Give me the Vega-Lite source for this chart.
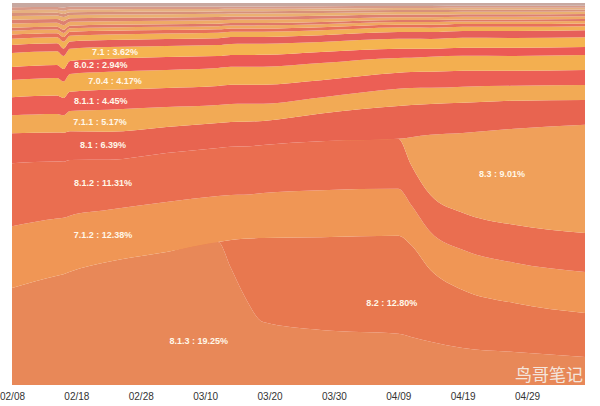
{
  "$schema": "https://vega.github.io/schema/vega-lite/v6.json",
  "width": 573,
  "height": 382,
  "autosize": {"type": "none"},
  "padding": {"left": 12, "top": 3, "right": 15, "bottom": 21},
  "background": "#ffffff",
  "config": {"view": {"stroke": null}},
  "datasets": {
    "shares": [
      {"date": "2015-02-08", "v813": 25.4, "v82": 0, "v712": 16.2, "v812": 16.5, "v83": 0, "v81": 7.9, "v711": 4.7, "v811": 4.7, "v704": 4.5, "v802": 3.4, "v71": 3.7, "v80": 2.1, "v706": 1.65, "v703": 1.1, "v702": 0.99, "v70": 0.77, "v616": 1.1, "v614": 0.99, "v613": 0.99, "v612": 0.77, "v601": 0.77, "v511": 0.77, "other": 1.1},
      {"date": "2015-02-15", "v813": 28.6, "v82": 0, "v712": 15.0, "v812": 14.9, "v83": 0, "v81": 7.6, "v711": 4.9, "v811": 4.8, "v704": 4.6, "v802": 3.4, "v71": 3.6, "v80": 2.1, "v706": 1.58, "v703": 1.05, "v702": 0.95, "v70": 0.74, "v616": 1.05, "v614": 0.95, "v613": 0.95, "v612": 0.74, "v601": 0.74, "v511": 0.74, "other": 1.05},
      {"date": "2015-02-16", "v813": 29.0, "v82": 0, "v712": 14.8, "v812": 14.7, "v83": 0, "v81": 7.6, "v711": 4.6, "v811": 4.5, "v704": 4.3, "v802": 3.3, "v71": 3.4, "v80": 2.0, "v706": 1.79, "v703": 1.19, "v702": 1.07, "v70": 0.83, "v616": 1.19, "v614": 1.07, "v613": 1.07, "v612": 0.83, "v601": 0.83, "v511": 0.83, "other": 1.19},
      {"date": "2015-02-17", "v813": 29.5, "v82": 0, "v712": 14.6, "v812": 14.5, "v83": 0, "v81": 7.5, "v711": 5.3, "v811": 5.0, "v704": 4.6, "v802": 3.4, "v71": 3.2, "v80": 1.9, "v706": 1.5, "v703": 1.0, "v702": 0.9, "v70": 0.7, "v616": 1.0, "v614": 0.9, "v613": 0.9, "v612": 0.7, "v601": 0.7, "v511": 0.7, "other": 1.0},
      {"date": "2015-02-23", "v813": 32.2, "v82": 0, "v712": 13.6, "v812": 13.1, "v83": 0, "v81": 7.3, "v711": 5.8, "v811": 5.2, "v704": 4.7, "v802": 3.4, "v71": 3.1, "v80": 1.8, "v706": 1.46, "v703": 0.97, "v702": 0.87, "v70": 0.68, "v616": 0.97, "v614": 0.87, "v613": 0.87, "v612": 0.68, "v601": 0.68, "v511": 0.68, "other": 0.97},
      {"date": "2015-03-04", "v813": 34.8, "v82": 0, "v712": 13.1, "v812": 12.8, "v83": 0, "v81": 6.8, "v711": 5.2, "v811": 5.0, "v704": 4.7, "v802": 3.4, "v71": 2.9, "v80": 1.8, "v706": 1.41, "v703": 0.94, "v702": 0.85, "v70": 0.66, "v616": 0.94, "v614": 0.85, "v613": 0.85, "v612": 0.66, "v601": 0.66, "v511": 0.66, "other": 0.94},
      {"date": "2015-03-12", "v813": 37.4, "v82": 0, "v712": 12.0, "v812": 12.6, "v83": 0, "v81": 6.5, "v711": 4.7, "v811": 5.0, "v704": 4.7, "v802": 3.1, "v71": 2.9, "v80": 1.8, "v706": 1.38, "v703": 0.92, "v702": 0.83, "v70": 0.64, "v616": 0.92, "v614": 0.83, "v613": 0.83, "v612": 0.64, "v601": 0.64, "v511": 0.64, "other": 0.92},
      {"date": "2015-03-14", "v813": 30.6, "v82": 7.3, "v712": 11.8, "v812": 12.6, "v83": 0, "v81": 6.5, "v711": 4.7, "v811": 5.0, "v704": 4.7, "v802": 3.1, "v71": 2.9, "v80": 1.8, "v706": 1.34, "v703": 0.89, "v702": 0.8, "v70": 0.62, "v616": 0.89, "v614": 0.8, "v613": 0.8, "v612": 0.62, "v601": 0.62, "v511": 0.62, "other": 0.89},
      {"date": "2015-03-16", "v813": 23.6, "v82": 14.7, "v712": 11.5, "v812": 12.6, "v83": 0, "v81": 6.5, "v711": 4.7, "v811": 5.0, "v704": 4.7, "v802": 3.1, "v71": 2.9, "v80": 1.8, "v706": 1.34, "v703": 0.89, "v702": 0.8, "v70": 0.62, "v616": 0.89, "v614": 0.8, "v613": 0.8, "v612": 0.62, "v601": 0.62, "v511": 0.62, "other": 0.89},
      {"date": "2015-03-19", "v813": 16.5, "v82": 22.0, "v712": 11.8, "v812": 12.6, "v83": 0, "v81": 6.3, "v711": 4.5, "v811": 5.0, "v704": 4.7, "v802": 3.1, "v71": 2.9, "v80": 1.8, "v706": 1.34, "v703": 0.89, "v702": 0.8, "v70": 0.62, "v616": 0.89, "v614": 0.8, "v613": 0.8, "v612": 0.62, "v601": 0.62, "v511": 0.62, "other": 0.89},
      {"date": "2015-03-28", "v813": 14.4, "v82": 24.3, "v712": 12.3, "v812": 12.8, "v83": 0, "v81": 7.3, "v711": 4.2, "v811": 4.5, "v704": 4.5, "v802": 2.9, "v71": 2.6, "v80": 1.8, "v706": 1.26, "v703": 0.84, "v702": 0.76, "v70": 0.59, "v616": 0.84, "v614": 0.76, "v613": 0.76, "v612": 0.59, "v601": 0.59, "v511": 0.59, "other": 0.84},
      {"date": "2015-04-09", "v813": 13.4, "v82": 25.7, "v712": 12.3, "v812": 13.1, "v83": 0, "v81": 8.6, "v711": 4.5, "v811": 4.2, "v704": 3.9, "v802": 2.4, "v71": 2.6, "v80": 1.8, "v706": 1.14, "v703": 0.76, "v702": 0.68, "v70": 0.53, "v616": 0.76, "v614": 0.68, "v613": 0.68, "v612": 0.53, "v601": 0.53, "v511": 0.53, "other": 0.76},
      {"date": "2015-04-11", "v813": 12.6, "v82": 24.1, "v712": 10.5, "v812": 10.5, "v83": 7.3, "v81": 8.4, "v711": 4.5, "v811": 4.2, "v704": 3.7, "v802": 2.4, "v71": 2.6, "v80": 1.8, "v706": 1.14, "v703": 0.76, "v702": 0.68, "v70": 0.53, "v616": 0.76, "v614": 0.68, "v613": 0.68, "v612": 0.53, "v601": 0.53, "v511": 0.53, "other": 0.76},
      {"date": "2015-04-14", "v813": 11.3, "v82": 18.8, "v712": 9.9, "v812": 9.7, "v83": 15.7, "v81": 8.1, "v711": 4.2, "v811": 4.2, "v704": 3.9, "v802": 2.1, "v71": 2.6, "v80": 1.8, "v706": 1.14, "v703": 0.76, "v702": 0.68, "v70": 0.53, "v616": 0.76, "v614": 0.68, "v613": 0.68, "v612": 0.53, "v601": 0.53, "v511": 0.53, "other": 0.76},
      {"date": "2015-04-19", "v813": 9.7, "v82": 15.2, "v712": 10.5, "v812": 9.7, "v83": 20.9, "v81": 7.9, "v711": 4.2, "v811": 4.2, "v704": 3.9, "v802": 2.1, "v71": 2.6, "v80": 1.8, "v706": 1.1, "v703": 0.73, "v702": 0.66, "v70": 0.51, "v616": 0.73, "v614": 0.66, "v613": 0.66, "v612": 0.51, "v601": 0.51, "v511": 0.51, "other": 0.73},
      {"date": "2015-04-27", "v813": 8.6, "v82": 12.8, "v712": 10.5, "v812": 9.9, "v83": 25.1, "v81": 7.3, "v711": 3.9, "v811": 3.9, "v704": 3.9, "v802": 2.1, "v71": 2.6, "v80": 1.8, "v706": 1.1, "v703": 0.73, "v702": 0.66, "v70": 0.51, "v616": 0.73, "v614": 0.66, "v613": 0.66, "v612": 0.51, "v601": 0.51, "v511": 0.51, "other": 0.73},
      {"date": "2015-05-08", "v813": 7.3, "v82": 11.5, "v712": 10.7, "v812": 10.2, "v83": 28.3, "v81": 6.5, "v711": 3.9, "v811": 3.9, "v704": 3.9, "v802": 2.1, "v71": 2.6, "v80": 1.8, "v706": 1.07, "v703": 0.71, "v702": 0.64, "v70": 0.5, "v616": 0.71, "v614": 0.64, "v613": 0.64, "v612": 0.5, "v601": 0.5, "v511": 0.5, "other": 0.71}
    ],
    "versions": [
      {"key": "v813", "rank": 1}, {"key": "v82", "rank": 2}, {"key": "v712", "rank": 3}, {"key": "v812", "rank": 4},
      {"key": "v83", "rank": 5}, {"key": "v81", "rank": 6}, {"key": "v711", "rank": 7}, {"key": "v811", "rank": 8},
      {"key": "v704", "rank": 9}, {"key": "v802", "rank": 10}, {"key": "v71", "rank": 11}, {"key": "v80", "rank": 12},
      {"key": "v706", "rank": 13}, {"key": "v703", "rank": 14}, {"key": "v702", "rank": 15}, {"key": "v70", "rank": 16},
      {"key": "v616", "rank": 17}, {"key": "v614", "rank": 18}, {"key": "v613", "rank": 19}, {"key": "v612", "rank": 20},
      {"key": "v601", "rank": 21}, {"key": "v511", "rank": 22}, {"key": "other", "rank": 23}
    ],
    "labels": [
      {"date": "2015-02-24T00:00Z", "pos": 0.872, "label": "7.1 : 3.62%"},
      {"date": "2015-02-21T19:00Z", "pos": 0.838, "label": "8.0.2 : 2.94%"},
      {"date": "2015-02-24T00:00Z", "pos": 0.796, "label": "7.0.4 : 4.17%"},
      {"date": "2015-02-21T19:00Z", "pos": 0.743, "label": "8.1.1 : 4.45%"},
      {"date": "2015-02-21T16:00Z", "pos": 0.688, "label": "7.1.1 : 5.17%"},
      {"date": "2015-02-22T03:00Z", "pos": 0.628, "label": "8.1 : 6.39%"},
      {"date": "2015-02-22T03:00Z", "pos": 0.529, "label": "8.1.2 : 11.31%"},
      {"date": "2015-02-22T03:00Z", "pos": 0.393, "label": "7.1.2 : 12.38%"},
      {"date": "2015-03-09T00:00Z", "pos": 0.115, "label": "8.1.3 : 19.25%"},
      {"date": "2015-04-08T00:00Z", "pos": 0.215, "label": "8.2 : 12.80%"},
      {"date": "2015-04-25T03:00Z", "pos": 0.552, "label": "8.3 : 9.01%"}
    ],
    "watermark": [
      {"date": "2015-05-02T10:00Z", "pos": 0.024, "label": "鸟哥笔记"}
    ]
  },
  "encoding": {
    "x": {
      "field": "date",
      "type": "temporal",
      "scale": {
        "type": "utc",
        "domain": [
          {"year": 2015, "month": 2, "date": 8, "utc": true},
          {"year": 2015, "month": 5, "date": 8, "utc": true}
        ]
      },
      "axis": {
        "title": null,
        "format": "%m/%d",
        "values": [
          {"year": 2015, "month": 2, "date": 8, "utc": true},
          {"year": 2015, "month": 2, "date": 18, "utc": true},
          {"year": 2015, "month": 2, "date": 28, "utc": true},
          {"year": 2015, "month": 3, "date": 10, "utc": true},
          {"year": 2015, "month": 3, "date": 20, "utc": true},
          {"year": 2015, "month": 3, "date": 30, "utc": true},
          {"year": 2015, "month": 4, "date": 9, "utc": true},
          {"year": 2015, "month": 4, "date": 19, "utc": true},
          {"year": 2015, "month": 4, "date": 29, "utc": true}
        ],
        "domain": false,
        "ticks": false,
        "grid": false,
        "labelFlush": false,
        "labelOverlap": false,
        "labelFont": "Liberation Sans",
        "labelFontSize": 10,
        "labelColor": "#333333",
        "labelPadding": 6
      }
    }
  },
  "layer": [
    {
      "data": {"name": "shares"},
      "transform": [
        {"fold": ["v813", "v82", "v712", "v812", "v83", "v81", "v711", "v811", "v704", "v802", "v71", "v80", "v706", "v703", "v702", "v70", "v616", "v614", "v613", "v612", "v601", "v511", "other"], "as": ["version", "share"]},
        {"lookup": "version", "from": {"data": {"name": "versions"}, "key": "key", "fields": ["rank"]}}
      ],
      "mark": {"type": "area", "interpolate": "monotone"},
      "encoding": {
        "y": {"field": "share", "type": "quantitative", "stack": "normalize", "axis": null, "scale": {"domain": [0, 1], "nice": false}},
        "color": {
          "field": "version",
          "type": "nominal",
          "legend": null,
          "scale": {
            "domain": ["v813", "v82", "v712", "v812", "v83", "v81", "v711", "v811", "v704", "v802", "v71", "v80", "v706", "v703", "v702", "v70", "v616", "v614", "v613", "v612", "v601", "v511", "other"],
            "range": ["#e88858", "#e8784f", "#f09655", "#ea6e50", "#f0a05a", "#e86450", "#f2aa55", "#ec5f55", "#f3af50", "#ec5a55", "#f5b450", "#e65f5a", "#f2b055", "#e8705a", "#f0a860", "#e07868", "#eeaa66", "#de8070", "#eab070", "#d8907a", "#e6b080", "#d89a88", "#c8a8a0"]
          }
        },
        "order": {"field": "rank", "type": "quantitative", "sort": "ascending"}
      }
    },
    {
      "data": {"name": "labels"},
      "mark": {"type": "text", "font": "Liberation Sans", "fontWeight": "bold", "fontSize": 9, "fill": "#fff7e8", "align": "center", "baseline": "middle"},
      "encoding": {
        "y": {"field": "pos", "type": "quantitative"},
        "text": {"field": "label"}
      }
    },
    {
      "data": {"name": "watermark"},
      "mark": {"type": "text", "font": "Noto Sans CJK SC", "fontSize": 17, "fill": "#f6f0ea", "opacity": 0.9, "align": "center", "baseline": "middle"},
      "encoding": {
        "y": {"field": "pos", "type": "quantitative"},
        "text": {"field": "label"}
      }
    }
  ]
}
